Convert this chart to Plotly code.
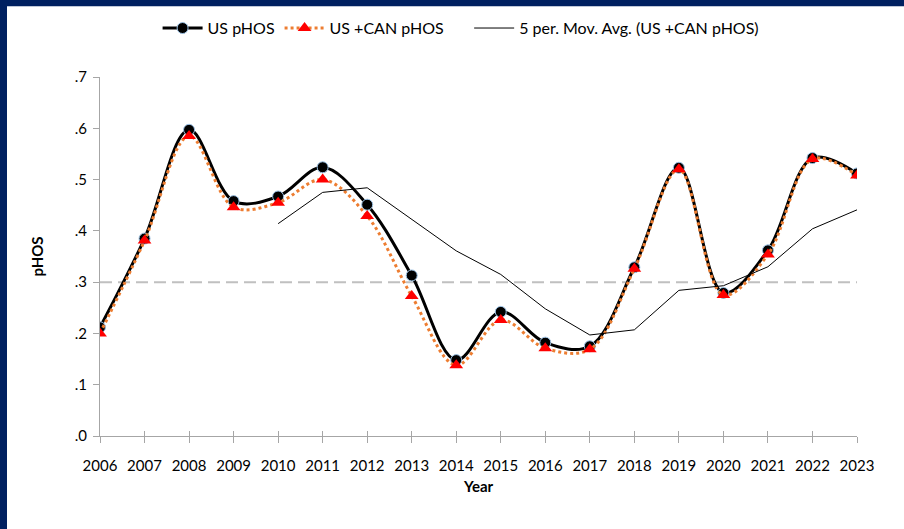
import plotly.graph_objects as go

years = list(range(2006, 2024))
us_phos = [0.212, 0.385, 0.597, 0.458, 0.467, 0.524, 0.451, 0.313, 0.148, 0.242,
           0.182, 0.175, 0.329, 0.523, 0.279, 0.362, 0.542, 0.512]
us_can_phos = [0.200, 0.381, 0.585, 0.446, 0.455, 0.500, 0.429, 0.273, 0.138, 0.226,
               0.171, 0.169, 0.326, 0.520, 0.275, 0.354, 0.540, 0.508]
ma_years = list(range(2010, 2024))
ma_5 = [0.414, 0.475, 0.484, 0.423, 0.361, 0.315, 0.248, 0.197, 0.207, 0.284,
        0.293, 0.330, 0.404, 0.441]
target = 0.3
y_ticks = [0, 0.1, 0.2, 0.3, 0.4, 0.5, 0.6, 0.7]
y_labels = [".0", ".1", ".2", ".3", ".4", ".5", ".6", ".7"]

font = "Lato, 'Open Sans', sans-serif"

fig = go.Figure()

# target line
fig.add_trace(go.Scatter(x=[years[0], years[-1]], y=[target, target], mode="lines",
                         line=dict(color="#C0C0C0", width=2, dash="12px,6px"),
                         showlegend=False, hoverinfo="skip"))

fig.add_trace(go.Scatter(x=years, y=us_phos, name="US pHOS", mode="lines+markers",
                         line=dict(color="black", width=3, shape="spline", smoothing=1),
                         marker=dict(symbol="circle", size=11, color="black",
                                     line=dict(color="#9DC3E6", width=1))))

fig.add_trace(go.Scatter(x=years, y=us_can_phos, name="US +CAN pHOS     ", mode="lines+markers",
                         line=dict(color="#ED7D31", width=3, dash="dot", shape="spline", smoothing=1),
                         marker=dict(symbol="triangle-up", size=12, color="#FF0000")))

fig.add_trace(go.Scatter(x=ma_years, y=ma_5, name="5 per. Mov. Avg. (US +CAN pHOS)",
                         mode="lines", line=dict(color="black", width=1)))

# navy frame on the left and top edges
fig.add_shape(type="rect", xref="paper", yref="paper", x0=-0.14, x1=-93 / 757,
              y0=-0.3, y1=1.25, fillcolor="#002060", line_width=0, layer="above")
fig.add_shape(type="rect", xref="paper", yref="paper", x0=-0.14, x1=1.07,
              y0=1.1972, y1=1.25, fillcolor="#002060", line_width=0, layer="above")

fig.update_layout(
    width=904, height=529,
    margin=dict(l=100, r=47, t=76, b=93),
    paper_bgcolor="white", plot_bgcolor="white",
    font=dict(family=font, size=15, color="black"),
    legend=dict(orientation="h", x=0.477, xanchor="center", y=1.133, yanchor="middle",
                font=dict(size=16), itemwidth=40, tracegroupgap=0),
    xaxis=dict(range=[2006, 2023], tickmode="array", tickvals=years,
               ticktext=[str(y) for y in years], showgrid=False,
               showline=True, linecolor="#A6A6A6", linewidth=1,
               ticks="outside", ticklen=6, tickcolor="#A6A6A6", ticklabelstandoff=10,
               title=dict(text="<b>Year</b>", font=dict(size=15), standoff=8),
               zeroline=False),
    xaxis2=dict(range=[2006, 2023], overlaying="x", tickvals=years, showticklabels=False,
                ticks="inside", ticklen=5, tickcolor="#A6A6A6", side="bottom",
                showgrid=False, zeroline=False, anchor="y"),
    yaxis=dict(range=[0, 0.7], tickvals=y_ticks, ticktext=y_labels, showgrid=False,
               showline=True, linecolor="#A6A6A6", linewidth=1,
               ticks="outside", ticklen=6, tickcolor="#A6A6A6", ticklabelstandoff=3,
               title=dict(text="<b>pHOS</b>", font=dict(size=15), standoff=27),
               zeroline=False),
)

# dummy trace to show the inside ticks of xaxis2
fig.add_trace(go.Scatter(x=[2006], y=[None], xaxis="x2", showlegend=False, hoverinfo="skip"))

fig.write_html("out.html", config={"displayModeBar": False},
               post_script="document.body.style.margin='0';")
